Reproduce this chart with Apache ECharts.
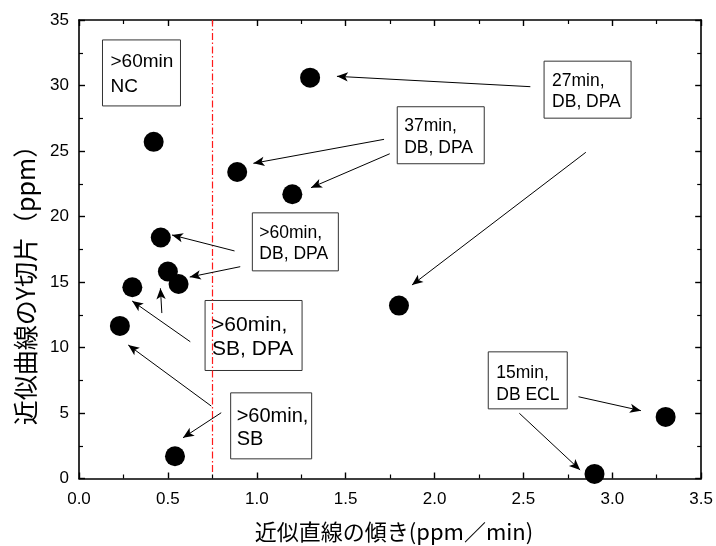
<!DOCTYPE html>
<html>
<head>
<meta charset="utf-8">
<script src="https://cdn.jsdelivr.net/npm/echarts@6/dist/echarts.min.js"></script>
<style>
  html, body { margin: 0; padding: 0; background: #fff; }
  #chart { width: 716px; height: 546px; }
</style>
</head>
<body>
<div id="chart"></div>
<script>
// Slope of fitted line (ppm/min) and intercept of fitted curve (ppm) per sample
const slope     = [1.30, 0.42, 0.89, 1.20, 0.46, 0.50, 0.56, 0.30, 0.23, 0.54, 1.80, 3.30, 2.90];
const intercept = [30.6, 25.7, 23.4, 21.7, 18.4, 15.8, 14.85, 14.6, 11.65, 1.7, 13.2, 4.7, 0.35];

// Threshold slope drawn as a vertical dash-dot line
const thresholdSlope = 0.75;
const thresholdSpan = [0.5, 35];

// Axis ranges and tick steps
const xRange = [0, 3.5], xStep = 0.5;
const yRange = [0, 35], yStep = 5;

// Note boxes: text and top-left corner in axis units
const noteText = [
  '>60min\nNC',
  '27min,\nDB, DPA',
  '37min,\nDB, DPA',
  '>60min,\nDB, DPA',
  '>60min,\nSB, DPA',
  '>60min,\nSB',
  '15min,\nDB ECL'
];
const noteX = [0.135, 2.619, 1.793, 0.978, 0.712, 0.856, 2.305];
const noteY = [33.44, 31.82, 28.34, 20.24, 13.55, 6.50, 9.63];

// Pointer arrows in axis units: tail -> head
const arrowTailX = [2.539, 2.851, 1.716, 1.748, 0.875, 0.907, 0.466, 0.626, 0.744, 0.800, 2.810, 2.477];
const arrowTailY = [29.91, 24.90, 25.89, 24.79, 17.37, 16.17, 12.63, 10.44, 5.53, 5.02, 6.24, 4.98];
const arrowHeadX = [1.451, 1.873, 0.981, 1.305, 0.523, 0.623, 0.458, 0.299, 0.277, 0.585, 3.161, 2.819];
const arrowHeadY = [30.70, 14.77, 24.06, 22.20, 18.59, 15.38, 14.52, 13.55, 10.19, 3.11, 5.18, 0.65];

// Box styling per note: [width, height, fontSize, lineHeight, padTop, padLeft]
const noteBoxStyle = [
  [78, 66, 19, 24.6, 10, 8],
  [87, 57, 17.5, 21.3, 9, 8],
  [87, 57, 17.5, 21.6, 9, 7],
  [86, 58, 17.5, 21.7, 9, 7],
  [97, 70, 21, 24, 13, 7],
  [81, 66, 20, 23.3, 12, 6],
  [79, 57, 17.5, 22, 10, 8]
];

const LATIN = '"Liberation Sans", Arial, sans-serif';
const CJK = '"Noto Sans CJK JP", sans-serif';

const pointData = slope.map((x, i) => [x, intercept[i]]);

const noteData = noteText.map((t, i) => {
  const s = noteBoxStyle[i];
  return {
    value: [noteX[i], noteY[i]],
    label: {
      show: true,
      formatter: t,
      position: [0, 0],
      align: 'left',
      verticalAlign: 'top',
      fontFamily: LATIN,
      fontSize: s[2],
      lineHeight: s[3],
      color: '#000',
      opacity: 1,
      borderColor: '#333',
      borderWidth: 1,
      padding: [s[4], 0, 0, s[5]],
      width: s[0] - s[5],
      height: s[1] - s[4]
    }
  };
});

const arrowData = arrowTailX.map((x, i) => [
  { coord: [x, arrowTailY[i]] },
  { coord: [arrowHeadX[i], arrowHeadY[i]] }
]);

const tickCommon = {
  axisLine: { show: true, onZero: false, lineStyle: { color: '#000', width: 1.6 } },
  axisTick: { show: true, inside: true, length: 6, lineStyle: { color: '#000', width: 1.4 } },
  minorTick: { show: true, splitNumber: 2, length: 4, lineStyle: { color: '#000', width: 1.2 } },
  splitLine: { show: false },
  minorSplitLine: { show: false }
};

const chart = echarts.init(document.getElementById('chart'), null, { renderer: 'canvas' });
chart.setOption({
  animation: false,
  backgroundColor: '#fff',
  grid: { left: 79, right: 13, top: 20, bottom: 67.5 },
  xAxis: [
    Object.assign({
      type: 'value', position: 'bottom', min: xRange[0], max: xRange[1], interval: xStep,
      axisLabel: {
        show: true, margin: 12, color: '#000', fontFamily: LATIN, fontSize: 17,
        formatter: v => v.toFixed(1)
      }
    }, tickCommon),
    Object.assign({
      type: 'value', position: 'top', min: xRange[0], max: xRange[1], interval: xStep,
      axisLabel: { show: false }
    }, tickCommon)
  ],
  yAxis: [
    Object.assign({
      type: 'value', position: 'left', min: yRange[0], max: yRange[1], interval: yStep,
      axisLabel: { show: true, margin: 10, color: '#000', fontFamily: LATIN, fontSize: 17 }
    }, tickCommon),
    Object.assign({
      type: 'value', position: 'right', min: yRange[0], max: yRange[1], interval: yStep,
      axisLabel: { show: false }
    }, tickCommon)
  ],
  graphic: [
    {
      type: 'text', x: 394, y: 532,
      style: {
        text: '近似直線の傾き(ppm／min)', font: '22px ' + CJK,
        fill: '#000', align: 'center', verticalAlign: 'middle'
      }
    },
    {
      type: 'text', x: 25, y: 279, rotation: Math.PI / 2,
      style: {
        text: '近似曲線のY切片（ppm）', font: '25px ' + CJK,
        fill: '#000', align: 'center', verticalAlign: 'middle'
      }
    }
  ],
  series: [
    {
      name: 'samples',
      type: 'scatter',
      xAxisIndex: 0, yAxisIndex: 0,
      symbol: 'circle',
      symbolSize: 20,
      itemStyle: { color: '#000', opacity: 1 },
      data: pointData,
      z: 5,
      markLine: {
        silent: true,
        symbol: ['none', 'none'],
        label: { show: false },
        lineStyle: { color: '#ff1a1a', width: 1.2, type: [7, 2.5, 1.5, 2.5], opacity: 1 },
        data: [[
          { coord: [thresholdSlope, thresholdSpan[0]] },
          { coord: [thresholdSlope, thresholdSpan[1]] }
        ]]
      }
    },
    {
      name: 'notes',
      type: 'scatter',
      xAxisIndex: 0, yAxisIndex: 0,
      symbolSize: 1,
      itemStyle: { color: 'transparent' },
      silent: true,
      data: noteData,
      z: 4,
      markLine: {
        silent: true,
        symbol: ['none', 'arrow'],
        symbolSize: [7, 11],
        label: { show: false },
        lineStyle: { color: '#000', width: 1, type: 'solid', opacity: 1 },
        itemStyle: { color: '#000' },
        data: arrowData
      }
    }
  ]
});
</script>
</body>
</html>
